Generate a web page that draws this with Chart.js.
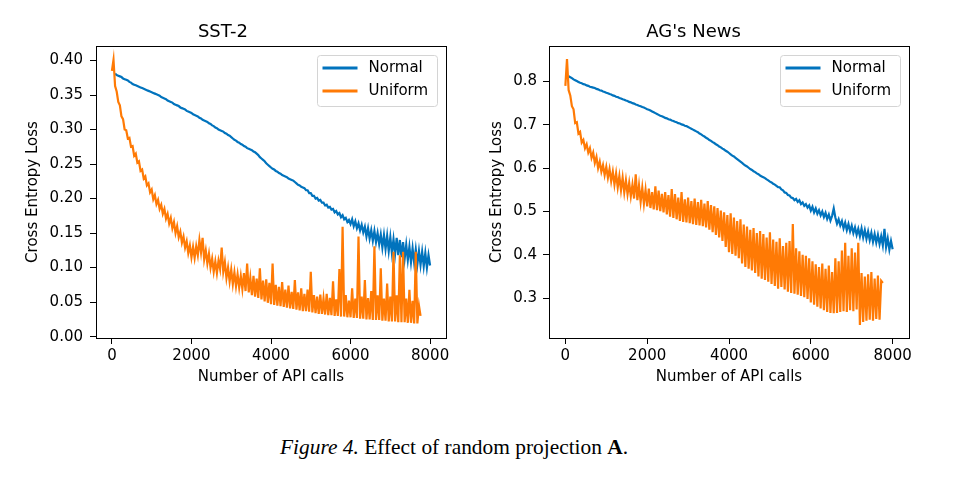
<!DOCTYPE html>
<html>
<head>
<meta charset="utf-8">
<script src="https://cdn.jsdelivr.net/npm/chart.js@4.4.0/dist/chart.umd.min.js"></script>
<style>
html,body{margin:0;padding:0;background:#fff;width:957px;height:492px;overflow:hidden;}
#c1{position:absolute;left:0;top:0;}
#c2{position:absolute;left:478px;top:0;}
#cap{position:absolute;left:280px;top:437px;font-family:"Liberation Serif","Times New Roman",serif;font-size:21.4px;line-height:21px;white-space:nowrap;color:#000;}
</style>
</head>
<body>
<canvas id="c1" width="478" height="400"></canvas>
<canvas id="c2" width="479" height="400"></canvas>
<div id="cap"><i>Figure 4.</i> Effect of random projection <b>A</b>.</div>
<script>
// ---------- DATA ----------
const apiCalls = [
  0, 40, 80, 120, 160, 200, 240, 280, 320, 360,
  400, 440, 480, 520, 560, 600, 640, 680, 720, 760,
  800, 840, 880, 920, 960, 1000, 1040, 1080, 1120, 1160,
  1200, 1240, 1280, 1320, 1360, 1400, 1440, 1480, 1520, 1560,
  1600, 1640, 1680, 1720, 1760, 1800, 1840, 1880, 1920, 1960,
  2000, 2040, 2080, 2120, 2160, 2200, 2240, 2280, 2320, 2360,
  2400, 2440, 2480, 2520, 2560, 2600, 2640, 2680, 2720, 2760,
  2800, 2840, 2880, 2920, 2960, 3000, 3040, 3080, 3120, 3160,
  3200, 3240, 3280, 3320, 3360, 3400, 3440, 3480, 3520, 3560,
  3600, 3640, 3680, 3720, 3760, 3800, 3840, 3880, 3920, 3960,
  4000, 4040, 4080, 4120, 4160, 4200, 4240, 4280, 4320, 4360,
  4400, 4440, 4480, 4520, 4560, 4600, 4640, 4680, 4720, 4760,
  4800, 4840, 4880, 4920, 4960, 5000, 5040, 5080, 5120, 5160,
  5200, 5240, 5280, 5320, 5360, 5400, 5440, 5480, 5520, 5560,
  5600, 5640, 5680, 5720, 5760, 5800, 5840, 5880, 5920, 5960,
  6000, 6040, 6080, 6120, 6160, 6200, 6240, 6280, 6320, 6360,
  6400, 6440, 6480, 6520, 6560, 6600, 6640, 6680, 6720, 6760,
  6800, 6840, 6880, 6920, 6960, 7000, 7040, 7080, 7120, 7160,
  7200, 7240, 7280, 7320, 7360, 7400, 7440, 7480, 7520, 7560,
  7600, 7640, 7680, 7720, 7760, 7800, 7840, 7880, 7920, 7960,
  8000
];
const seriesNames = ["Normal", "Uniform"];
const chartTitles = ["SST-2", "AG's News"];
const xTicks = [0, 2000, 4000, 6000, 8000];
const sst2YTicks = [0.00, 0.05, 0.10, 0.15, 0.20, 0.25, 0.30, 0.35, 0.40];
const agYTicks = [0.3, 0.4, 0.5, 0.6, 0.7, 0.8];

const sst2Normal = [
  null, null, 0.381, 0.379, 0.378, 0.377, 0.376, 0.374, 0.373, 0.372,
  0.371, 0.369, 0.368, 0.366, 0.365, 0.364, 0.363, 0.362, 0.361, 0.360,
  0.359, 0.358, 0.357, 0.356, 0.355, 0.354, 0.353, 0.352, 0.351, 0.350,
  0.349, 0.347, 0.346, 0.345, 0.344, 0.342, 0.341, 0.340, 0.339, 0.337,
  0.336, 0.335, 0.334, 0.332, 0.331, 0.330, 0.329, 0.327, 0.326, 0.325,
  0.324, 0.322, 0.321, 0.320, 0.319, 0.317, 0.316, 0.314, 0.313, 0.312,
  0.311, 0.309, 0.308, 0.306, 0.305, 0.303, 0.302, 0.300, 0.299, 0.298,
  0.297, 0.295, 0.294, 0.292, 0.291, 0.289, 0.287, 0.285, 0.284, 0.282,
  0.281, 0.279, 0.278, 0.276, 0.275, 0.273, 0.272, 0.271, 0.270, 0.268,
  0.267, 0.265, 0.263, 0.260, 0.258, 0.256, 0.254, 0.251, 0.249, 0.247,
  0.245, 0.243, 0.242, 0.240, 0.239, 0.237, 0.236, 0.234, 0.233, 0.232,
  0.231, 0.229, 0.228, 0.227, 0.226, 0.224, 0.222, 0.220, 0.219, 0.217,
  0.216, 0.215, 0.212, 0.212, 0.208, 0.208, 0.204, 0.204, 0.200, 0.201,
  0.197, 0.198, 0.194, 0.194, 0.190, 0.191, 0.187, 0.188, 0.184, 0.185,
  0.180, 0.182, 0.177, 0.179, 0.173, 0.176, 0.170, 0.172, 0.166, 0.169,
  0.163, 0.170, 0.160, 0.167, 0.157, 0.164, 0.154, 0.162, 0.151, 0.159,
  0.145, 0.157, 0.142, 0.154, 0.139, 0.153, 0.137, 0.150, 0.134, 0.148,
  0.129, 0.147, 0.127, 0.146, 0.124, 0.144, 0.121, 0.141, 0.120, 0.143,
  0.118, 0.140, 0.115, 0.137, 0.113, 0.133, 0.111, 0.130, 0.108, 0.128,
  0.107, 0.126, 0.105, 0.124, 0.104, 0.123, 0.102, 0.121, 0.100, 0.118,
  0.103
];
const sst2Uniform = [
  0.385, 0.401, 0.363, 0.355, 0.340, 0.335, 0.319, 0.315, 0.300, 0.299,
  0.287, 0.288, 0.275, 0.276, 0.262, 0.265, 0.252, 0.254, 0.240, 0.242,
  0.229, 0.232, 0.219, 0.222, 0.209, 0.213, 0.199, 0.205, 0.192, 0.198,
  0.185, 0.191, 0.178, 0.185, 0.171, 0.178, 0.164, 0.172, 0.157, 0.166,
  0.150, 0.160, 0.144, 0.152, 0.136, 0.145, 0.129, 0.138, 0.121, 0.132,
  0.115, 0.130, 0.114, 0.131, 0.118, 0.140, 0.122, 0.143, 0.112, 0.125,
  0.106, 0.120, 0.100, 0.113, 0.094, 0.109, 0.092, 0.110, 0.098, 0.129,
  0.094, 0.108, 0.085, 0.100, 0.080, 0.097, 0.076, 0.093, 0.073, 0.090,
  0.071, 0.088, 0.069, 0.092, 0.066, 0.106, 0.064, 0.085, 0.060, 0.088,
  0.058, 0.084, 0.056, 0.099, 0.054, 0.081, 0.051, 0.083, 0.049, 0.078,
  0.047, 0.106, 0.046, 0.075, 0.045, 0.072, 0.044, 0.079, 0.043, 0.068,
  0.042, 0.074, 0.041, 0.065, 0.040, 0.082, 0.039, 0.064, 0.038, 0.070,
  0.037, 0.062, 0.037, 0.068, 0.036, 0.094, 0.035, 0.060, 0.034, 0.058,
  0.033, 0.061, 0.033, 0.055, 0.032, 0.062, 0.031, 0.056, 0.031, 0.080,
  0.030, 0.054, 0.030, 0.098, 0.029, 0.159, 0.029, 0.060, 0.028, 0.052,
  0.028, 0.070, 0.027, 0.055, 0.027, 0.145, 0.026, 0.058, 0.026, 0.082,
  0.025, 0.056, 0.025, 0.066, 0.024, 0.131, 0.024, 0.060, 0.024, 0.099,
  0.023, 0.055, 0.023, 0.077, 0.022, 0.058, 0.022, 0.123, 0.022, 0.060,
  0.021, 0.118, 0.021, 0.123, 0.021, 0.055, 0.020, 0.068, 0.020, 0.052,
  0.019, 0.123, 0.019, 0.045, 0.030
];
const agNormal = [
  null, null, 0.812, 0.810, 0.808, 0.805, 0.803, 0.801, 0.799, 0.797,
  0.796, 0.794, 0.793, 0.791, 0.790, 0.788, 0.787, 0.786, 0.785, 0.783,
  0.782, 0.780, 0.779, 0.777, 0.776, 0.774, 0.773, 0.771, 0.770, 0.768,
  0.767, 0.765, 0.764, 0.762, 0.761, 0.759, 0.758, 0.756, 0.755, 0.753,
  0.752, 0.750, 0.749, 0.747, 0.746, 0.744, 0.743, 0.741, 0.740, 0.738,
  0.736, 0.735, 0.733, 0.731, 0.729, 0.727, 0.725, 0.723, 0.721, 0.720,
  0.718, 0.716, 0.715, 0.713, 0.712, 0.710, 0.709, 0.707, 0.706, 0.704,
  0.703, 0.701, 0.700, 0.698, 0.697, 0.695, 0.693, 0.691, 0.689, 0.687,
  0.685, 0.683, 0.680, 0.678, 0.675, 0.673, 0.670, 0.668, 0.665, 0.663,
  0.660, 0.658, 0.655, 0.653, 0.650, 0.648, 0.645, 0.643, 0.640, 0.638,
  0.635, 0.632, 0.629, 0.627, 0.624, 0.621, 0.618, 0.615, 0.612, 0.609,
  0.606, 0.604, 0.601, 0.598, 0.596, 0.593, 0.591, 0.588, 0.586, 0.583,
  0.581, 0.579, 0.577, 0.574, 0.572, 0.569, 0.567, 0.564, 0.562, 0.559,
  0.556, 0.556, 0.551, 0.549, 0.544, 0.543, 0.538, 0.537, 0.532, 0.531,
  0.526, 0.529, 0.522, 0.526, 0.517, 0.521, 0.513, 0.517, 0.509, 0.514,
  0.502, 0.511, 0.498, 0.507, 0.495, 0.503, 0.491, 0.500, 0.487, 0.497,
  0.483, 0.493, 0.479, 0.490, 0.507, 0.486, 0.472, 0.482, 0.468, 0.478,
  0.461, 0.474, 0.457, 0.471, 0.454, 0.467, 0.450, 0.463, 0.446, 0.460,
  0.443, 0.461, 0.440, 0.457, 0.437, 0.454, 0.434, 0.451, 0.430, 0.448,
  0.428, 0.446, 0.425, 0.443, 0.422, 0.460, 0.418, 0.438, 0.412, 0.432,
  0.413
];
const agUniform = [
  0.790, 0.852, 0.780, 0.768, 0.743, 0.736, 0.704, 0.706, 0.680, 0.684,
  0.659, 0.665, 0.646, 0.655, 0.636, 0.646, 0.624, 0.636, 0.612, 0.626,
  0.600, 0.615, 0.592, 0.607, 0.584, 0.603, 0.578, 0.598, 0.570, 0.592,
  0.562, 0.588, 0.556, 0.582, 0.549, 0.578, 0.544, 0.572, 0.540, 0.566,
  0.535, 0.562, 0.530, 0.586, 0.526, 0.560, 0.522, 0.555, 0.518, 0.550,
  0.512, 0.553, 0.508, 0.545, 0.505, 0.558, 0.503, 0.548, 0.501, 0.541,
  0.498, 0.545, 0.493, 0.538, 0.488, 0.552, 0.485, 0.540, 0.482, 0.532,
  0.478, 0.545, 0.476, 0.528, 0.475, 0.532, 0.473, 0.524, 0.471, 0.530,
  0.469, 0.522, 0.468, 0.527, 0.466, 0.518, 0.463, 0.524, 0.458, 0.515,
  0.452, 0.512, 0.446, 0.508, 0.440, 0.502, 0.432, 0.498, 0.418, 0.492,
  0.406, 0.496, 0.402, 0.486, 0.398, 0.478, 0.392, 0.482, 0.380, 0.470,
  0.372, 0.465, 0.368, 0.458, 0.364, 0.462, 0.358, 0.450, 0.350, 0.455,
  0.345, 0.448, 0.342, 0.440, 0.338, 0.452, 0.333, 0.435, 0.328, 0.430,
  0.322, 0.438, 0.326, 0.420, 0.320, 0.428, 0.315, 0.432, 0.312, 0.471,
  0.310, 0.415, 0.308, 0.408, 0.305, 0.400, 0.302, 0.398, 0.298, 0.392,
  0.290, 0.385, 0.285, 0.378, 0.280, 0.372, 0.276, 0.380, 0.272, 0.368,
  0.268, 0.375, 0.266, 0.360, 0.265, 0.392, 0.266, 0.385, 0.268, 0.410,
  0.270, 0.428, 0.268, 0.398, 0.272, 0.415, 0.270, 0.405, 0.274, 0.428,
  0.238, 0.358, 0.245, 0.350, 0.248, 0.355, 0.250, 0.360, 0.248, 0.345,
  0.252, 0.352, 0.250, 0.340, 0.335
];

// ---------- STYLE ----------
const BLUE = '#0173bd';
const ORANGE = '#ff7a05';
const FONT = 'DejaVu Sans';

function toPoints(xs, ys) {
  const pts = [];
  for (let i = 0; i < ys.length; i++) {
    if (ys[i] !== null) pts.push({x: xs[i], y: ys[i]});
  }
  return pts;
}

const framePlugin = {
  id: 'frame',
  afterDraw(chart) {
    const {ctx, chartArea: a} = chart;
    ctx.save();
    ctx.strokeStyle = '#000';
    ctx.lineWidth = 1;
    ctx.strokeRect(Math.round(a.left) + 0.5, Math.round(a.top) + 0.5,
                   Math.round(a.right - a.left), Math.round(a.bottom - a.top));
    ctx.restore();
  }
};

const legendPlugin = {
  id: 'boxLegend',
  afterDraw(chart) {
    const {ctx, chartArea: a} = chart;
    const w = 120, h = 51;
    const x = Math.round(a.right - 9 - w) + 0.5, y = Math.round(a.top + 9) + 0.5;
    ctx.save();
    ctx.beginPath();
    const r = 3;
    ctx.moveTo(x + r, y);
    ctx.lineTo(x + w - r, y); ctx.arcTo(x + w, y, x + w, y + r, r);
    ctx.lineTo(x + w, y + h - r); ctx.arcTo(x + w, y + h, x + w - r, y + h, r);
    ctx.lineTo(x + r, y + h); ctx.arcTo(x, y + h, x, y + h - r, r);
    ctx.lineTo(x, y + r); ctx.arcTo(x, y, x + r, y, r);
    ctx.closePath();
    ctx.fillStyle = 'rgba(255,255,255,0.85)';
    ctx.fill();
    ctx.strokeStyle = '#d4d4d4';
    ctx.lineWidth = 1;
    ctx.stroke();
    chart.data.datasets.forEach((ds, i) => {
      const ly = y + 12.5 + i * 23;
      ctx.beginPath();
      ctx.strokeStyle = ds.borderColor;
      ctx.lineWidth = 3;
      ctx.moveTo(x + 5, ly);
      ctx.lineTo(x + 40, ly);
      ctx.stroke();
      ctx.fillStyle = '#000';
      ctx.font = '15px "' + FONT + '"';
      ctx.textBaseline = 'middle';
      ctx.textAlign = 'left';
      ctx.fillText(ds.label, x + 51, ly + 0.5);
    });
    ctx.restore();
  }
};

function makeChart(id, o) {
  const tickFont = {family: FONT, size: 15, lineHeight: 1.2};
  return new Chart(document.getElementById(id), {
    type: 'line',
    data: {
      datasets: [
        {label: seriesNames[0], data: toPoints(apiCalls, o.normal), borderColor: BLUE,
         borderWidth: 2.2, pointRadius: 0, tension: 0, fill: false, order: 2},
        {label: seriesNames[1], data: toPoints(apiCalls, o.uniform), borderColor: ORANGE,
         borderWidth: 2.2, pointRadius: 0, tension: 0, fill: false, order: 1}
      ]
    },
    plugins: [framePlugin, legendPlugin],
    options: {
      responsive: false,
      animation: false,
      events: [],
      layout: {padding: {left: 0, right: o.padRight, top: 20, bottom: 0}},
      plugins: {
        legend: {display: false},
        tooltip: {enabled: false},
        title: {display: true, text: o.title, color: '#000',
                font: {family: FONT, size: 18, weight: 'normal', lineHeight: 1.2},
                padding: {top: 2, bottom: 2.4}}
      },
      scales: {
        x: {
          type: 'linear', min: -400, max: 8400,
          afterBuildTicks: s => { s.ticks = xTicks.map(v => ({value: v})); },
          afterFit: s => { s.height = 62; },
          ticks: {color: '#000', font: tickFont, padding: 3, maxRotation: 0, autoSkip: false,
                  callback: v => String(v)},
          grid: {display: true, drawOnChartArea: false, drawTicks: true, tickLength: 6,
                 tickColor: '#000', tickWidth: 1},
          border: {display: true, color: '#000', width: 1},
          title: {display: true, text: 'Number of API calls', color: '#000', font: tickFont,
                  padding: {top: 0, bottom: 14}}
        },
        y: {
          type: 'linear', min: o.yMin, max: o.yMax,
          afterBuildTicks: s => { s.ticks = o.yTicks.map(v => ({value: v})); },
          afterFit: s => { s.width = o.yWidth; },
          ticks: {color: '#000', font: tickFont, padding: o.yPad, autoSkip: false,
                  callback: v => v.toFixed(o.dec)},
          grid: {display: true, drawOnChartArea: false, drawTicks: true, tickLength: 6,
                 tickColor: '#000', tickWidth: 1},
          border: {display: true, color: '#000', width: 1},
          title: {display: true, text: 'Cross Entropy Loss', color: '#000', font: tickFont,
                  padding: {top: o.yTitlePad, bottom: 0}}
        }
      }
    }
  });
}

makeChart('c1', {title: chartTitles[0], normal: sst2Normal, uniform: sst2Uniform,
  yMin: -0.002, yMax: 0.421, yTicks: sst2YTicks, dec: 2,
  yWidth: 96, padRight: 32, yPad: 7, yTitlePad: 24});
makeChart('c2', {title: chartTitles[1], normal: agNormal, uniform: agUniform,
  yMin: 0.208, yMax: 0.882, yTicks: agYTicks, dec: 1,
  yWidth: 71, padRight: 48, yPad: 6, yTitlePad: 10});
</script>
</body>
</html>
